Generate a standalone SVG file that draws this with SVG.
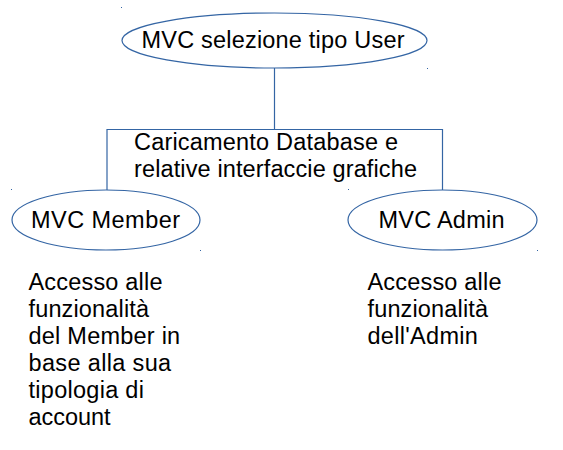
<svg xmlns="http://www.w3.org/2000/svg" width="563" height="450" viewBox="0 0 563 450">
<style>
.shape{fill:#ffffff;stroke:#3465a4;stroke-width:1.2}
.conn{fill:none;stroke:#3465a4;stroke-width:1.2}
.t{font-family:"Liberation Sans",Arial,sans-serif;font-size:23.5px;fill:#000000}
.dot{fill:#3465a4}
</style>
<rect width="563" height="450" fill="#ffffff"/>
<g id="connectors">
<path class="conn" d="M274.5,68 V129.5 M107,190 V129.5 H442.5 V190"/>
</g>
<g id="node-top">
<ellipse class="shape" cx="274.5" cy="40.5" rx="152.5" ry="27.5"/>
<text class="t" x="141.5" y="48" textLength="263" lengthAdjust="spacing">MVC selezione tipo User</text>
</g>
<g id="node-caricamento">
<text class="t" x="134" y="150" textLength="264" lengthAdjust="spacing">Caricamento Database e</text>
<text class="t" x="134" y="177" textLength="283" lengthAdjust="spacing">relative interfaccie grafiche</text>
</g>
<g id="node-member">
<ellipse class="shape" cx="106" cy="220" rx="94" ry="30"/>
<text class="t" x="31" y="228" textLength="149" lengthAdjust="spacing">MVC Member</text>
</g>
<g id="node-admin">
<ellipse class="shape" cx="442.5" cy="220" rx="94.5" ry="30"/>
<text class="t" x="378.5" y="228" textLength="126" lengthAdjust="spacing">MVC Admin</text>
</g>
<g id="text-member">
<text class="t" x="28.5" y="290" textLength="134" lengthAdjust="spacing">Accesso alle</text>
<text class="t" x="28.5" y="317" textLength="120.5" lengthAdjust="spacing">funzionalità</text>
<text class="t" x="28.5" y="344" textLength="151.7" lengthAdjust="spacing">del Member in</text>
<text class="t" x="28.5" y="371" textLength="142.7" lengthAdjust="spacing">base alla sua</text>
<text class="t" x="28.5" y="398" textLength="115.4" lengthAdjust="spacing">tipologia di</text>
<text class="t" x="28.5" y="425" textLength="82" lengthAdjust="spacing">account</text>
</g>
<g id="text-admin">
<text class="t" x="367.5" y="290" textLength="134" lengthAdjust="spacing">Accesso alle</text>
<text class="t" x="367.5" y="317" textLength="120.5" lengthAdjust="spacing">funzionalità</text>
<text class="t" x="367.5" y="344" textLength="110.4" lengthAdjust="spacing">dell'Admin</text>
</g>
<g id="marks">
<rect class="dot" x="121" y="7" width="1" height="1"/>
<rect class="dot" x="427" y="68" width="1" height="1"/>
<rect class="dot" x="11" y="189" width="1" height="1"/>
<rect class="dot" x="200" y="250" width="1" height="1"/>
<rect class="dot" x="348" y="189" width="1" height="1"/>
<rect class="dot" x="537" y="250" width="1" height="1"/>
</g>
</svg>
